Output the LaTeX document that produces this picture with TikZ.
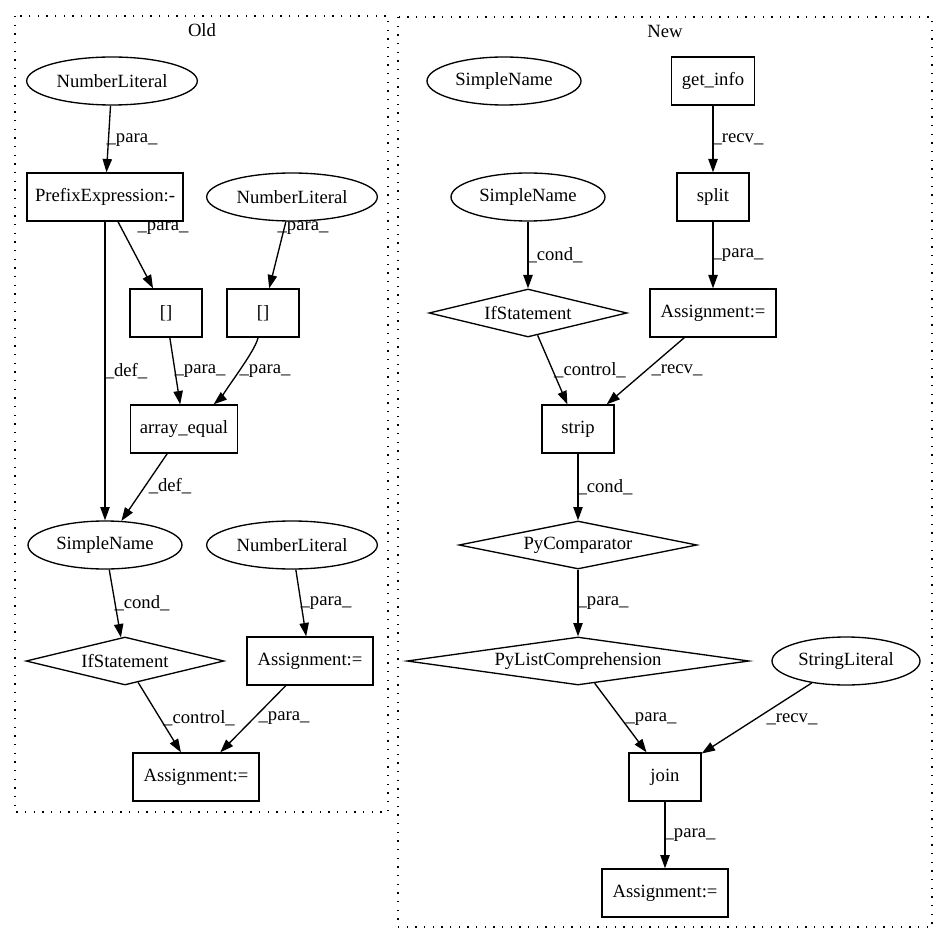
\documentclass[tikz,border=0pt]{standalone}
\usepackage{fontspec}
\setmainfont{Liberation Serif}
\usepackage{tikz}
\usetikzlibrary{shapes.geometric, arrows.meta, positioning}
\newcommand{\gvfont}{\fontsize{14pt}{16pt}\selectfont}
\tikzset{
    box/.style={rectangle, draw, line width=1pt, minimum width=54pt, minimum height=36pt, inner sep=0pt, font=\gvfont},
    literal/.style={ellipse, draw, line width=1pt, minimum height=36pt, inner sep=0pt, font=\gvfont},
    decision/.style={diamond, draw, line width=1pt, minimum height=36pt, inner sep=0pt, font=\gvfont},
    flow/.style={draw, line width=1pt, -{Triangle[length=10pt, width=7pt]}},
    elabel/.style={inner sep=0pt, font=\gvfont},
    title/.style={inner sep=0pt, font=\gvfont},
    cluster/.style={draw, line width=1pt, dash pattern=on 1pt off 5.5pt}
}

\begin{document}
\begin{tikzpicture}[x=0.75pt, y=-0.75pt, node distance=87pt, on grid]
        \useasboundingbox (0,0) rectangle (948,944);

        % Old
        \draw [cluster] (15,16) rectangle (388,812);
        \node [title] (oldtitle) at (202,30) {Old};
        \node [literal, minimum width=128pt] (numA) at (112,81) {NumberLiteral};
        \node [box, minimum width=117pt] (prefix) at (105,197) {PrefixExpression:-};
        \node [literal, minimum width=128pt] (numB) at (292,197) {NumberLiteral};
        \node [box] (idxA) at (166,313) {[]};
        \node [box] (idxB) at (263,313) {[]};
        \node [box, minimum width=80pt] (arreq) at (184,429) {array\_equal};
        \node [literal, minimum width=115.5pt, below=261pt of prefix] (nameA) {SimpleName};
        \node [literal, minimum width=128pt, below=261pt of numB] (numC) {NumberLiteral};
        \node [decision, minimum width=148.5pt, aspect=4.1] (ifA) at (125,661) {IfStatement};
        \node [box, minimum width=94.5pt] (asgA) at (310,661) {Assignment:=};
        \node [box, minimum width=94.5pt] (asgB) at (196,777) {Assignment:=};

        % New
        \draw [cluster] (398,17) rectangle (932,927);
        \node [title] (newtitle) at (665,31) {New};
        \node [literal, minimum width=115.5pt] (nameNew) at (504,81) {SimpleName};
        \node [box, minimum width=62pt] (getinfo) at (713,81) {get\_info};
        \node [box, below=of getinfo] (split) {split};
        \node [literal, minimum width=115.5pt] (nameB) at (528,197) {SimpleName};
        \node [decision, minimum width=148.5pt, aspect=4.1, below=of nameB] (ifB) {IfStatement};
        \node [box, minimum width=94.5pt, below=of split] (asgC) {Assignment:=};
        \node [box] (strip) at (578,429) {strip};
        \node [decision, minimum width=178.5pt, aspect=5, below=of strip] (pycomp) {PyComparator};
        \node [decision, minimum width=256.5pt, aspect=7.1, below=of pycomp] (pylist) {PyListComprehension};
        \node [literal, minimum width=111pt] (strlit) at (846,661) {StringLiteral};
        \node [box] (join) at (665,777) {join};
        \node [box, minimum width=94.5pt, below=of join] (asgD) {Assignment:=};

        % Connections (Old)
        \draw [flow] (numA) -- (prefix) node [elabel] at (132,140) {\_para\_};
        \draw [flow] (prefix) -- (idxA) node [elabel] at (163,228) {\_para\_};
        \draw [flow] (numB) -- (idxB) node [elabel] at (303,228) {\_para\_};
        \draw [flow] (prefix) -- (nameA) node [elabel] at (126,371) {\_def\_};
        \draw [flow] (idxA) -- (arreq) node [elabel] at (200,371) {\_para\_};
        \draw [flow] (idxB) .. controls +(-8,40) and +(30,-25) .. (arreq) node [elabel] at (265,371) {\_para\_};
        \draw [flow] (arreq) -- (nameA) node [elabel] at (170,486) {\_def\_};
        \draw [flow] (nameA) -- (ifA) node [elabel] at (142,603) {\_cond\_};
        \draw [flow] (numC) -- (asgA) node [elabel] at (326,603) {\_para\_};
        \draw [flow] (ifA) -- (asgB) node [elabel] at (199,718) {\_control\_};
        \draw [flow] (asgA) -- (asgB) node [elabel] at (284,718) {\_para\_};

        % Connections (New)
        \draw [flow] (getinfo) -- (split) node [elabel] at (738,139) {\_recv\_};
        \draw [flow] (nameB) -- (ifB) node [elabel] at (555,255) {\_cond\_};
        \draw [flow] (split) -- (asgC) node [elabel] at (738,255) {\_para\_};
        \draw [flow] (ifB) -- (strip) node [elabel] at (590,370) {\_control\_};
        \draw [flow] (asgC) -- (strip) node [elabel] at (677,370) {\_recv\_};
        \draw [flow] (strip) -- (pycomp) node [elabel] at (605,487) {\_cond\_};
        \draw [flow] (pycomp) -- (pylist) node [elabel] at (603,603) {\_para\_};
        \draw [flow] (pylist) -- (join) node [elabel] at (651,719) {\_para\_};
        \draw [flow] (strlit) -- (join) node [elabel] at (792,719) {\_recv\_};
        \draw [flow] (join) -- (asgD) node [elabel] at (690,835) {\_para\_};

    \end{tikzpicture}
\end{document}
